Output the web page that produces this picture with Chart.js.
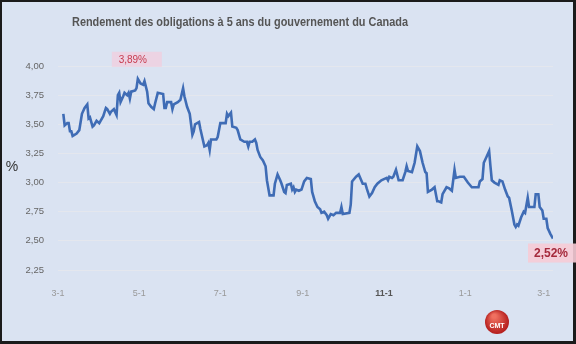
<!DOCTYPE html>
<html>
<head>
<meta charset="utf-8">
<script src="https://cdn.jsdelivr.net/npm/chart.js@4.4.0/dist/chart.umd.min.js"></script>
<style>
  body { margin: 0; background: #dae3f2; }
  canvas { display: block; }
</style>
</head>
<body>
<canvas id="chart" width="576" height="344"></canvas>
<script>
// jours depuis le 1er mars
const days = [4,5,7,8,9,10,11,14,16,18,20,22,23,24,26,27,29,31,32,34,36,37,39,40,42,44,45,46,47,49,
  50,52,53,54,55,58,59,60,62,64,65,67,68,70,72,73,75,79,80,81,82,85,86,87,90,92,94,95,97,99,
  101,102,103,106,107,110,112,113,114,115,119,120,122,126,127,128,130,131,134,135,137,140,142,143,144,146,148,149,150,152,
  154,156,157,159,162,163,165,167,168,170,171,172,175,176,177,178,179,181,183,185,187,190,191,193,195,197,198,200,202,203,
  205,207,209,212,213,214,219,220,221,224,226,229,231,232,234,236,238,240,243,247,248,249,251,252,254,256,259,261,262,263,
  266,268,270,272,274,276,277,278,281,283,285,286,288,289,292,294,296,298,299,302,305,308,311,316,317,319,320,322,324,325,
  326,328,331,332,334,336,338,339,341,343,344,345,346,348,350,351,353,354,358,359,361,362,364,365,367,368,370,372];
const yields = [3.59,3.49,3.51,3.51,3.44,3.44,3.40,3.42,3.45,3.59,3.64,3.67,3.55,3.56,3.48,3.49,3.53,3.51,3.53,3.57,3.64,3.63,3.59,3.61,3.63,3.58,3.75,3.77,3.69,3.74,
  3.77,3.75,3.77,3.72,3.78,3.79,3.81,3.89,3.85,3.84,3.87,3.78,3.68,3.65,3.63,3.68,3.77,3.76,3.64,3.64,3.69,3.69,3.63,3.67,3.69,3.71,3.81,3.74,3.65,3.59,
  3.41,3.44,3.50,3.52,3.46,3.31,3.32,3.34,3.28,3.37,3.37,3.39,3.51,3.51,3.59,3.57,3.60,3.48,3.47,3.45,3.37,3.35,3.35,3.31,3.35,3.35,3.37,3.34,3.28,3.22,
  3.19,3.14,3.02,2.89,2.89,2.99,3.07,3.02,2.99,2.92,2.91,2.98,2.99,2.94,2.96,2.92,2.94,2.93,2.94,3.01,3.04,3.03,2.92,2.84,2.79,2.77,2.74,2.75,2.72,2.69,
  2.73,2.72,2.74,2.74,2.79,2.73,2.74,2.81,3.01,3.05,3.07,2.99,2.99,2.95,2.88,2.91,2.96,2.99,3.02,3.04,3.02,3.05,3.04,3.05,3.11,3.02,3.02,3.09,3.14,3.10,
  3.09,3.17,3.31,3.27,3.17,3.09,3.08,2.92,2.94,2.96,2.84,2.84,2.83,2.90,2.96,2.95,2.93,3.11,3.04,3.05,3.05,3.00,2.96,2.96,3.01,3.03,3.17,3.22,3.27,3.14,
  3.02,3.00,2.98,3.02,3.01,2.94,2.88,2.87,2.76,2.64,2.62,2.64,2.63,2.70,2.75,2.74,2.87,2.79,2.79,2.90,2.90,2.79,2.76,2.69,2.69,2.61,2.56,2.52];

const tickDays = [0, 61, 122, 184, 245, 306, 365];
const tickLabels = ["3-1", "5-1", "7-1", "9-1", "11-1", "1-1", "3-1"];
const yTicks = [2.25, 2.50, 2.75, 3.00, 3.25, 3.50, 3.75, 4.00];

const title = "Rendement des obligations à 5 ans du gouvernement du Canada";
const fmt = (v) => v.toFixed(2).replace(".", ",");

const decor = {
  id: "decor",
  beforeDraw(chart) {
    const ctx = chart.ctx;
    ctx.save();
    ctx.fillStyle = "#1b1b1b";
    ctx.fillRect(0, 0, chart.width, chart.height);
    ctx.fillStyle = "#dae3f2";
    ctx.fillRect(2, 2, chart.width - 5, chart.height - 5);
    ctx.restore();
  },
  afterDatasetsDraw(chart) {
    const ctx = chart.ctx;
    const pts = chart.getDatasetMeta(0).data;
    ctx.save();

    ctx.fillStyle = "#555";
    ctx.font = "bold 13px 'Liberation Sans', Arial, sans-serif";
    ctx.textAlign = "center";
    ctx.textBaseline = "middle";
    ctx.fillText(title, 240, 22, 336);

    ctx.fillStyle = "#333";
    ctx.font = "14px 'Liberation Sans', Arial, sans-serif";
    ctx.fillText("%", 12, 167);

    // plus haut
    let iMax = 0;
    yields.forEach((v, i) => { if (v > yields[iMax]) iMax = i; });
    const pMax = pts[iMax];
    ctx.fillStyle = "rgba(242, 205, 222, 0.75)";
    ctx.fillRect(pMax.x - 26, pMax.y - 27, 50, 15);
    ctx.fillStyle = "#c73a4e";
    ctx.font = "10px 'Liberation Sans', Arial, sans-serif";
    ctx.fillText(fmt(yields[iMax]) + "%", pMax.x - 5, pMax.y - 19);

    // dernier
    const last = yields.length - 1;
    const pLast = pts[last];
    ctx.fillStyle = "rgba(246, 203, 214, 0.9)";
    ctx.fillRect(pLast.x - 25, pLast.y + 5, 50, 19);
    ctx.fillStyle = "#a52a3c";
    ctx.font = "bold 12px 'Liberation Sans', Arial, sans-serif";
    ctx.fillText(fmt(yields[last]) + "%", pLast.x - 2, pLast.y + 15);

    // logo
    const g = ctx.createRadialGradient(494, 316, 2, 497, 322, 13);
    g.addColorStop(0, "#f07060");
    g.addColorStop(1, "#b01818");
    ctx.fillStyle = g;
    ctx.beginPath();
    ctx.arc(497, 322, 12, 0, Math.PI * 2);
    ctx.fill();
    ctx.fillStyle = "#fff";
    ctx.font = "bold 7px 'Liberation Sans', Arial, sans-serif";
    ctx.fillText("CMT", 497, 326);
    ctx.restore();
  }
};

new Chart(document.getElementById("chart"), {
  type: "line",
  data: {
    datasets: [{
      data: days.map((d, i) => ({ x: d, y: yields[i] })),
      borderColor: "#3f6cb5",
      borderWidth: 2.6,
      pointRadius: 0,
      tension: 0,
      fill: false
    }]
  },
  options: {
    responsive: false,
    animation: false,
    layout: { padding: { top: 66, right: 23, left: 0, bottom: 0 } },
    plugins: { legend: { display: false }, tooltip: { enabled: false } },
    scales: {
      x: {
        type: "linear",
        min: 0,
        max: 372,
        afterBuildTicks: (axis) => { axis.ticks = tickDays.map((v) => ({ value: v })); },
        afterFit: (axis) => { axis.height = 74; },
        grid: { display: false },
        border: { display: false },
        ticks: {
          autoSkip: false,
          maxRotation: 0,
          padding: 10,
          callback: (v) => tickLabels[tickDays.indexOf(v)],
          font: (c) => ({ family: "'Liberation Sans', Arial, sans-serif", size: 9,
            weight: c.tick && c.tick.value === 245 ? "bold" : "normal" }),
          color: (c) => (c.tick && c.tick.value === 245 ? "#555" : "#999")
        }
      },
      y: {
        min: 2.25,
        max: 4.0,
        afterBuildTicks: (axis) => { axis.ticks = yTicks.map((v) => ({ value: v })); },
        afterFit: (axis) => { axis.width = 58; },
        grid: { color: "#e4e7ee", drawTicks: false },
        border: { display: false },
        ticks: {
          padding: 14,
          callback: (v) => fmt(v),
          font: { family: "'Liberation Sans', Arial, sans-serif", size: 9.5 },
          color: "#666"
        }
      }
    }
  },
  plugins: [decor]
});
</script>
</body>
</html>
